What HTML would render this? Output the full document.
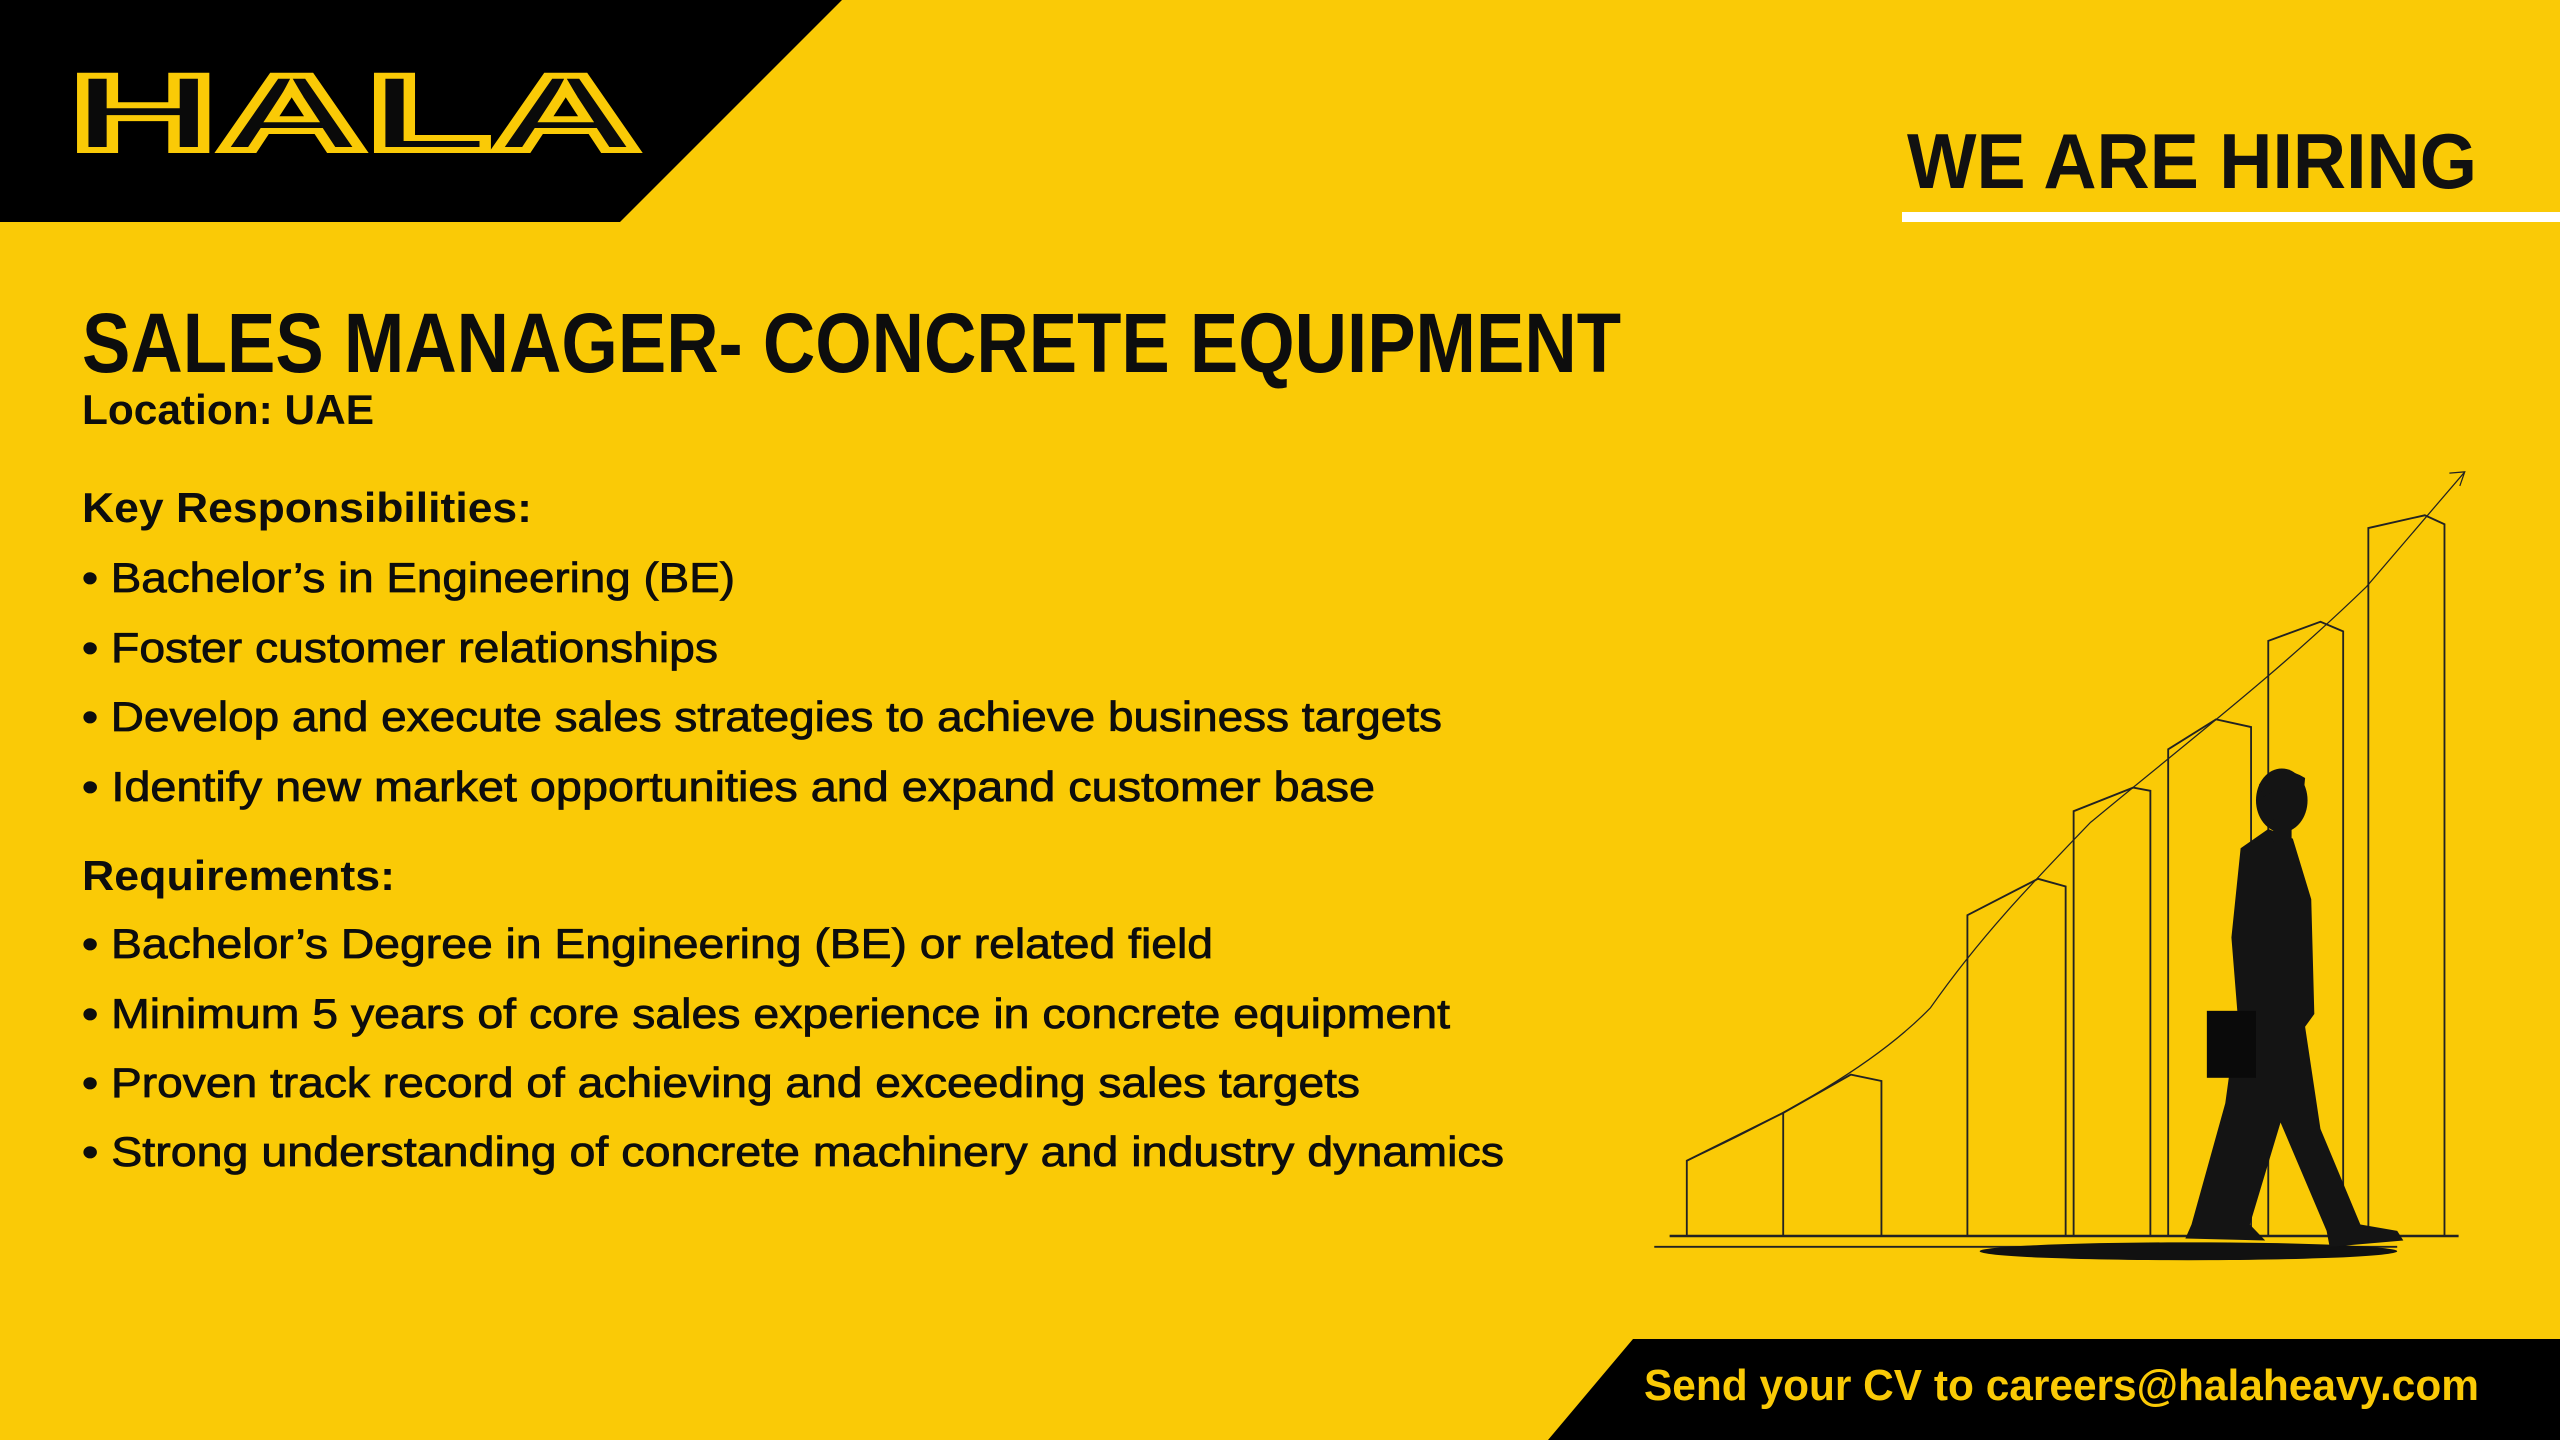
<!DOCTYPE html>
<html><head><meta charset="utf-8"><style>
html,body{margin:0;padding:0;background:#FACA06;}
svg{display:block;}
text{font-family:"Liberation Sans",sans-serif;}
</style></head><body>
<svg width="2560" height="1440" viewBox="0 0 2560 1440" xmlns="http://www.w3.org/2000/svg">
<rect width="2560" height="1440" fill="#FACA06"/>
<polygon points="0,0 842,0 620,222 0,222" fill="#000"/>
<text x="69" y="150" font-size="108" font-weight="bold" fill="#0a0a0a" stroke="#FACA06" stroke-width="6" textLength="571" lengthAdjust="spacingAndGlyphs" font-family="Liberation Sans">HALA</text>

<text x="1907" y="188" font-size="78" font-weight="bold" fill="#111" textLength="570" lengthAdjust="spacingAndGlyphs">WE ARE HIRING</text>
<rect x="1902" y="212" width="658" height="10" fill="#fff"/>

<g fill="#0d0d0d" font-weight="bold">
<text x="82" y="372" font-size="84" textLength="1539" lengthAdjust="spacingAndGlyphs">SALES MANAGER- CONCRETE EQUIPMENT</text>
<text x="82" y="424" font-size="42" textLength="292" lengthAdjust="spacingAndGlyphs">Location: UAE</text>
<text x="82" y="522" font-size="42" textLength="450" lengthAdjust="spacingAndGlyphs">Key Responsibilities:</text>
<text x="82" y="890" font-size="42" textLength="313" lengthAdjust="spacingAndGlyphs">Requirements:</text>
</g>
<g fill="#0d0d0d" font-size="42" stroke="#0d0d0d" stroke-width="0.8">
<text x="82" y="592" textLength="653" lengthAdjust="spacingAndGlyphs">• Bachelor’s in Engineering (BE)</text>
<text x="82" y="662" textLength="636" lengthAdjust="spacingAndGlyphs">• Foster customer relationships</text>
<text x="82" y="731" textLength="1360" lengthAdjust="spacingAndGlyphs">• Develop and execute sales strategies to achieve business targets</text>
<text x="82" y="801" textLength="1293" lengthAdjust="spacingAndGlyphs">• Identify new market opportunities and expand customer base</text>
<text x="82" y="958" textLength="1131" lengthAdjust="spacingAndGlyphs">• Bachelor’s Degree in Engineering (BE) or related field</text>
<text x="82" y="1028" textLength="1368" lengthAdjust="spacingAndGlyphs">• Minimum 5 years of core sales experience in concrete equipment</text>
<text x="82" y="1097" textLength="1278" lengthAdjust="spacingAndGlyphs">• Proven track record of achieving and exceeding sales targets</text>
<text x="82" y="1166" textLength="1422" lengthAdjust="spacingAndGlyphs">• Strong understanding of concrete machinery and industry dynamics</text>
</g>

<g transform="translate(1599,440) scale(0.614,0.6378)" fill="none" stroke="#222" stroke-width="3">
<line x1="115" y1="1248" x2="1400" y2="1248" stroke-width="4"/>
<line x1="90" y1="1265" x2="1300" y2="1265" stroke-width="3"/>
<polyline points="143,1248 143,1130 300,1055 300,1248"/>
<polyline points="300,1055 410,995 460,1005 460,1248"/>
<polyline points="600,1248 600,745 715,688 760,700 760,1248"/>
<polyline points="773,1248 773,582 870,545 898,550 898,1248"/>
<polyline points="927,1248 927,485 1005,438 1062,450 1062,1248"/>
<polyline points="1090,1248 1090,315 1175,285 1212,300 1212,1248"/>
<polyline points="1253,1248 1253,138 1345,118 1377,132 1377,1248"/>
<path d="M143,1130 C300,1060 450,980 540,890 C620,780 700,700 800,600 C950,480 1100,370 1250,230 L1410,50" stroke-width="2"/>
<polyline points="1385,52 1410,50 1402,72" stroke-width="2"/>
<ellipse cx="960" cy="1272" rx="340" ry="14" fill="#111" stroke="none"/>
<g fill="#141414" stroke="none">
<ellipse cx="1112" cy="565" rx="42" ry="50"/>
<path d="M1075,540 Q1110,505 1150,530 L1148,550 Q1110,540 1082,560 Z"/>
<path d="M1090,610 L1130,625 L1160,720 L1165,900 L1150,920 L1175,1080 L1240,1230 L1300,1240 L1310,1255 L1190,1265 L1185,1240 L1110,1070 L1060,1230 L1085,1255 L955,1252 L965,1230 L1020,1040 L1040,900 L1030,780 L1045,640 Z"/>
<rect x="990" y="895" width="80" height="105" fill="#0a0a0a"/>
<rect x="1098" y="595" width="30" height="35"/>
</g>
</g>

<polygon points="1633,1339 2560,1339 2560,1440 1548,1440" fill="#000"/>
<text x="1644" y="1400" font-size="44" font-weight="bold" fill="#FACA06" textLength="835" lengthAdjust="spacingAndGlyphs">Send your CV to careers@halaheavy.com</text>
</svg>
</body></html>
